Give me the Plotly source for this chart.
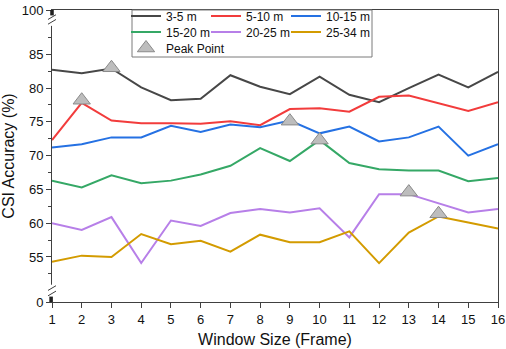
import plotly.graph_objects as go

window = list(range(1, 17))
s_3_5 = [82.7, 82.2, 82.9, 80.1, 78.2, 78.4, 81.9, 80.2, 79.1, 81.7, 79.0, 77.9, 80.0, 82.0, 80.1, 82.4]
s_5_10 = [72.3, 77.8, 75.2, 74.8, 74.8, 74.7, 75.1, 74.5, 76.9, 77.0, 76.5, 78.7, 78.9, 77.8, 76.6, 77.9]
s_10_15 = [71.2, 71.7, 72.7, 72.7, 74.4, 73.5, 74.6, 74.2, 75.2, 73.3, 74.3, 72.1, 72.7, 74.3, 70.0, 71.7]
s_15_20 = [66.3, 65.3, 67.1, 65.9, 66.3, 67.2, 68.5, 71.1, 69.2, 72.3, 68.9, 68.0, 67.8, 67.8, 66.2, 66.7]
s_20_25 = [60.0, 59.0, 60.9, 54.1, 60.4, 59.6, 61.5, 62.1, 61.6, 62.2, 57.9, 64.3, 64.3, 62.9, 61.6, 62.1]
s_25_34 = [54.3, 55.2, 55.0, 58.4, 56.9, 57.4, 55.8, 58.3, 57.2, 57.2, 58.8, 54.1, 58.6, 61.0, 60.1, 59.2]
peak_x = [3, 2, 9, 10, 13, 14]
peak_y = [83.0, 78.2, 75.1, 72.3, 64.6, 61.4]

series_names = ["3-5 m", "5-10 m", "10-15 m", "15-20 m", "20-25 m", "25-34 m"]
series_vals = [s_3_5, s_5_10, s_10_15, s_15_20, s_20_25, s_25_34]
colors = ["#474747", "#f23c3c", "#2571e3", "#35a866", "#b77fe8", "#d39b00"]

# broken y axis: bottom shows "0", top shows "100"
Y_LO, Y_HI = 48.34, 91.55
ytick_vals = [Y_LO, 55, 60, 65, 70, 75, 80, 85, Y_HI]
ytick_text = ["0", "55", "60", "65", "70", "75", "80", "85", "100"]
yminor_vals = [52.5, 57.5, 62.5, 67.5, 72.5, 77.5, 82.5, 87.5]

font_family = "Liberation Sans, Arial, sans-serif"
axis_col = "#404040"

# one legend per entry, arranged as 3 columns x 3 rows
col_px = [126, 206, 286]
row_px = [16, 32, 48]
legend_pos = [(col_px[i % 3], row_px[i // 3]) for i in range(7)]
legend_keys = ["legend"] + ["legend%d" % k for k in range(2, 8)]

fig = go.Figure()
for i, (name, vals, col) in enumerate(zip(series_names, series_vals, colors)):
    fig.add_trace(go.Scatter(x=window, y=vals, mode="lines", name=name,
                             line=dict(color=col, width=2), legend=legend_keys[i]))
fig.add_trace(go.Scatter(x=peak_x, y=peak_y, mode="markers", name="Peak Point",
                         marker=dict(symbol="triangle-up", size=15, color="#bdbdbd",
                                     line=dict(color="#8a8a8a", width=1)),
                         legend=legend_keys[6]))

shapes = []
# cover gaps in y axis line for break marks
for g0, g1 in [(49.05, 50.9), (89.2, 90.8)]:
    shapes.append(dict(type="rect", xref="paper", yref="y", x0=-0.012, x1=0.012, y0=g0, y1=g1,
                       fillcolor="white", line=dict(width=0), layer="above"))
for yc in [49.6, 50.4, 89.8, 90.5]:
    shapes.append(dict(type="line", xref="paper", yref="y", x0=-0.009, x1=0.009,
                       y0=yc - 0.35, y1=yc + 0.35, line=dict(color=axis_col, width=1), layer="above"))
# small dark blocks at axis ends
shapes.append(dict(type="rect", xref="paper", yref="y", x0=-0.006, x1=0.002, y0=Y_LO, y1=Y_LO + 0.8,
                   fillcolor="#202020", line=dict(width=0), layer="above"))
shapes.append(dict(type="rect", xref="paper", yref="y", x0=-0.004, x1=0.004, y0=Y_HI - 0.8, y1=Y_HI,
                   fillcolor="#202020", line=dict(width=0), layer="above"))
# legend border
shapes.append(dict(type="rect", xref="paper", yref="paper", x0=(132 - 52) / 446, x1=(372 - 52) / 446,
                   y0=(302 - 57) / 292, y1=1.0, line=dict(color="#7a7a7a", width=1),
                   fillcolor="rgba(0,0,0,0)", layer="above"))

legends = {}
for key, (px, py) in zip(legend_keys, legend_pos):
    legends[key] = dict(orientation="v", bgcolor="rgba(0,0,0,0)", borderwidth=0,
                        font=dict(family=font_family, size=12, color="#111"),
                        xanchor="left", yanchor="middle", itemwidth=30,
                        x=(px - 52) / 446, y=(302 - py) / 292)

fig.update_layout(
    width=506, height=349,
    margin=dict(l=52, r=8, t=10, b=47, autoexpand=False),
    paper_bgcolor="white", plot_bgcolor="white",
    font=dict(family=font_family, color="#111"),
    showlegend=True,
    xaxis=dict(range=[1, 16], tickmode="array", tickvals=window, ticks="outside", ticklen=5,
               tickcolor=axis_col, showline=True, linecolor=axis_col, linewidth=1, mirror=True,
               showgrid=False, zeroline=False, tickfont=dict(size=13), automargin=False,
               title=dict(text="Window Size (Frame)", font=dict(size=16), standoff=8)),
    yaxis=dict(range=[Y_LO, Y_HI], tickmode="array", tickvals=ytick_vals, ticktext=ytick_text,
               ticks="outside", ticklen=5, tickcolor=axis_col, showline=True, linecolor=axis_col,
               linewidth=1, mirror=True, showgrid=False, zeroline=False, tickfont=dict(size=13),
               automargin=False,
               minor=dict(tickmode="array", tickvals=yminor_vals, ticks="outside", ticklen=3,
                          tickcolor=axis_col),
               title=dict(text="CSI Accuracy (%)", font=dict(size=16), standoff=4)),
    shapes=shapes,
    **legends,
)

fig.write_html("out.html")
